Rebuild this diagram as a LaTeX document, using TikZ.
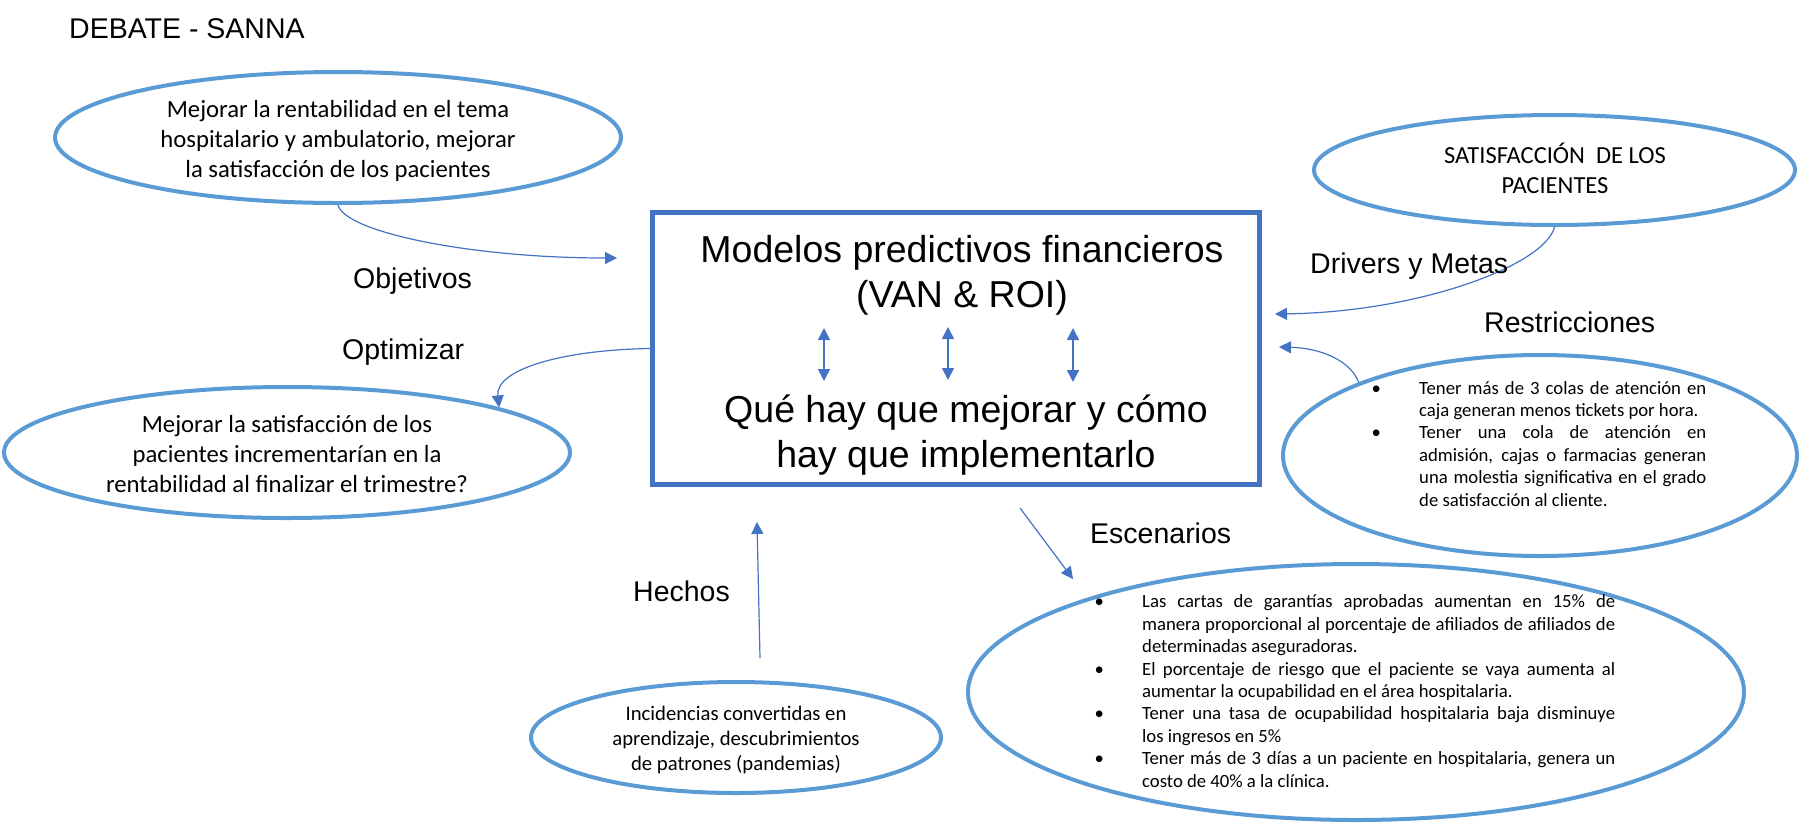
\documentclass[tikz,border=0pt]{standalone}
\usepackage{fontspec}
\setmainfont{Liberation Sans}
\newfontfamily\calfont{Carlito}
\usetikzlibrary{arrows.meta,shapes.geometric}
\definecolor{ellblue}{HTML}{5B9BD5}
\definecolor{boxblue}{HTML}{4472C4}
\newlength{\bulw}\setlength{\bulw}{47.5pt}
\newcommand{\myBj}[2]{\makebox[\bulw][l]{•}\makebox[#1][s]{#2}}
\newcommand{\myCj}[2]{\makebox[\bulw]{}\makebox[#1][s]{#2}}
\newcommand{\myCl}[1]{\makebox[\bulw]{}#1}
\begin{document}
\begin{tikzpicture}[x=1pt,y=-1pt,
  ell/.style={draw=ellblue, line width=4pt, ellipse, inner sep=0pt},
  lbl/.style={anchor=base west, inner sep=0pt, font=\fontsize{28.5}{34}\selectfont},
  etext/.style={inner sep=0pt, align=center, anchor=base},
  bigtext/.style={inner sep=0pt, align=center, anchor=base, font=\fontsize{37.5}{45}\selectfont},
  listtext/.style={inner sep=0pt, align=left, anchor=base west, font=\calfont\fontsize{18.7}{22.4}\selectfont},
  conn/.style={draw=boxblue, line width=1.2pt, -{Triangle[length=12pt,width=12pt]}},
  dbl/.style={draw=boxblue, line width=1.5pt, {Triangle[length=12pt,width=12pt]}-{Triangle[length=12pt,width=12pt]}},
]
\useasboundingbox (0,0) rectangle (1800,823);

% title
\node[lbl] (title) at (69,38) {DEBATE - SANNA};

% central box
\node[draw=boxblue, line width=5pt, minimum width=606.5pt, minimum height=272pt, inner sep=0pt] (box) at (955.75,348.5) {};
\node[bigtext] (boxtop) at (962,307) {Modelos predictivos financieros\\(VAN \& ROI)};
\node[bigtext] (boxbot) at (966,467) {Qué hay que mejorar y cómo\\hay que implementarlo};
\coordinate (d1a) at (824,328); \coordinate (d1b) at (824,381);
\coordinate (d2a) at (948,327); \coordinate (d2b) at (948,380);
\coordinate (d3a) at (1073,328); \coordinate (d3b) at (1073,382);
\draw[dbl] (d1a) -- (d1b);
\draw[dbl] (d2a) -- (d2b);
\draw[dbl] (d3a) -- (d3b);

% objetivos
\node[ell, minimum width=566pt, minimum height=131pt] (goal) at (338,137.5) {};
\node[etext, font=\calfont\fontsize{24.7}{30}\selectfont] (goaltxt) at (338,177) {Mejorar la rentabilidad en el tema\\hospitalario y ambulatorio, mejorar\\la satisfacción de los pacientes};
\coordinate (objEnd) at (617,258);
\draw[conn] (goal.south) .. controls (345,232) and (470,258) .. (objEnd);
\node[lbl] (objlbl) at (353,288) {Objetivos};

% optimizar
\node[ell, minimum width=566pt, minimum height=131pt] (quest) at (287,452.5) {};
\node[etext, font=\calfont\fontsize{24.7}{30}\selectfont] (questtxt) at (287,492) {Mejorar la satisfacción de los\\pacientes incrementarían en la\\rentabilidad al finalizar el trimestre?};
\draw[conn] (box.west) .. controls (560,350) and (495,370) .. (quest.12.4);
\node[lbl] (optlbl) at (342,359) {Optimizar};

% drivers y metas
\node[ell, minimum width=481pt, minimum height=110pt] (sat) at (1554.5,170) {};
\node[etext, font=\calfont\fontsize{24.5}{30}\selectfont] (sattxt) at (1555,193) {SATISFACCIÓN\ \ DE LOS\\PACIENTES};
\coordinate (drvEnd) at (1275,314);
\draw[conn] (sat.south) .. controls (1545,265) and (1420,312) .. (drvEnd);
\node[lbl] (drvlbl) at (1310,273) {Drivers y Metas};

% restricciones
\node[ell, minimum width=514pt, minimum height=201pt] (restr) at (1540,455.5) {};
\node[listtext] (restrtxt) at (1371.5,506) {%
\myBj{287pt}{Tener más de 3 colas de atención en}\\
\myCl{caja generan menos tickets por hora.}\\
\myBj{287pt}{Tener una cola de atención en}\\
\myCj{287pt}{admisión, cajas o farmacias generan}\\
\myCj{287pt}{una molestia significativa en el grado}\\
\myCl{de satisfacción al cliente.}};
\coordinate (resEnd) at (1279,347);
\draw[conn] (restr.158) .. controls (1350,360) and (1320,348) .. (resEnd);
\node[lbl] (reslbl) at (1484,332) {Restricciones};

% escenarios
\node[ell, minimum width=776pt, minimum height=256pt] (scen) at (1356,692) {};
\node[listtext] (scentxt) at (1094.5,787) {%
\myBj{473pt}{Las cartas de garantías aprobadas aumentan en 15\% de}\\
\myCj{473pt}{manera proporcional al porcentaje de afiliados de afiliados de}\\
\myCl{determinadas aseguradoras.}\\
\myBj{473pt}{El porcentaje de riesgo que el paciente se vaya aumenta al}\\
\myCl{aumentar la ocupabilidad en el área hospitalaria.}\\
\myBj{473pt}{Tener una tasa de ocupabilidad hospitalaria baja disminuye}\\
\myCl{los ingresos en 5\%}\\
\myBj{473pt}{Tener más de 3 días a un paciente en hospitalaria, genera un}\\
\myCl{costo de 40\% a la clínica.}};
\coordinate (escA) at (1020,508);
\coordinate (escB) at (1073,579);
\draw[conn] (escA) -- (escB);
\node[lbl] (esclbl) at (1090,543) {Escenarios};

% hechos
\node[ell, minimum width=410pt, minimum height=111pt] (facts) at (736,737.5) {};
\node[etext, font=\calfont\fontsize{20.7}{25}\selectfont] (factstxt) at (736,770.7) {Incidencias convertidas en\\aprendizaje, descubrimientos\\de patrones (pandemias)};
\coordinate (hecA) at (760,658);
\coordinate (hecB) at (757,522);
\draw[conn] (hecA) -- (hecB);
\node[lbl] (heclbl) at (633,601) {Hechos};
\end{tikzpicture}
\end{document}
